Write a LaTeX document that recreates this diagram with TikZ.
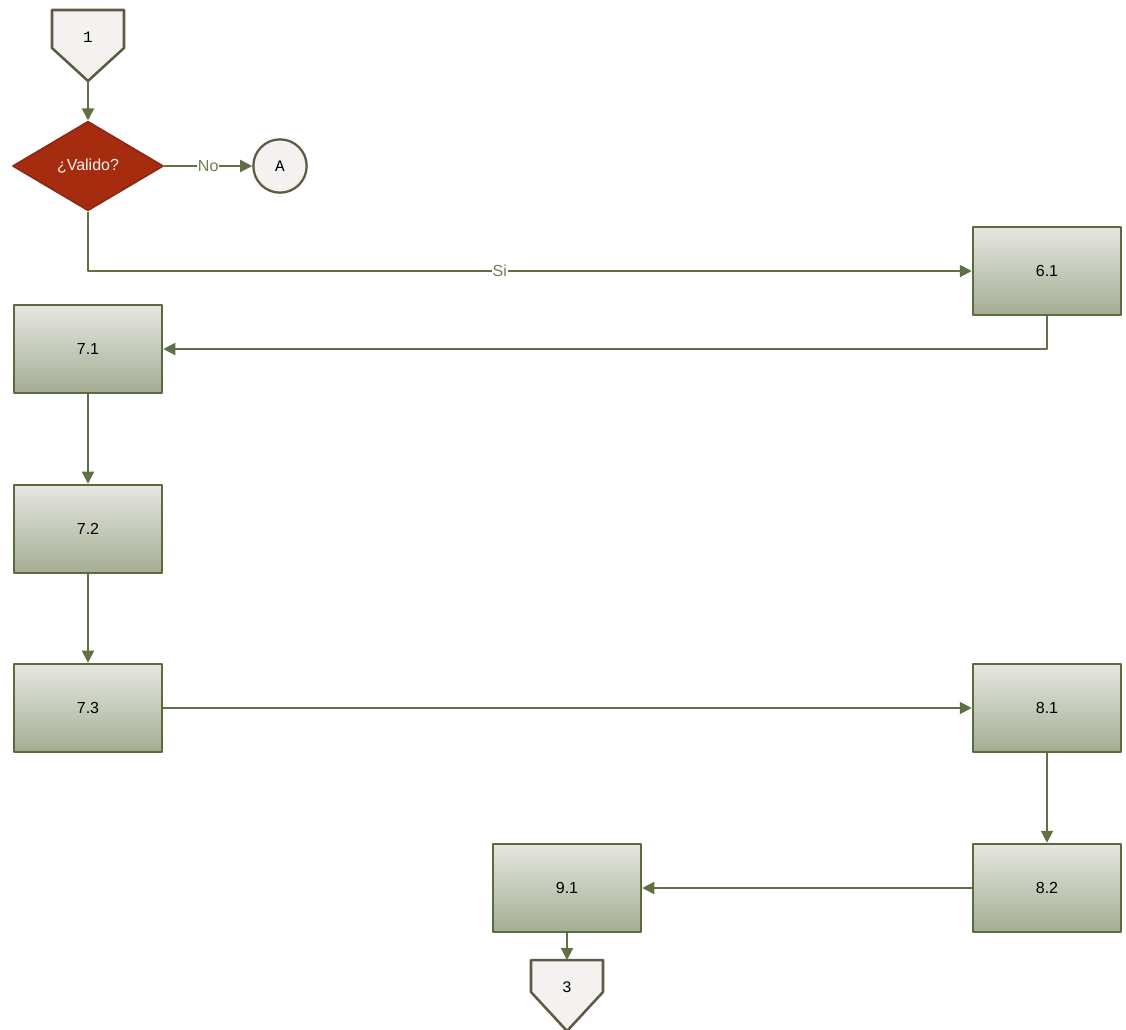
\documentclass[tikz,border=0pt]{standalone}
\usepackage{fontspec}
\setmainfont{Liberation Sans}
\newfontfamily\pagefont{Liberation Mono}
\usetikzlibrary{arrows.meta}
\usetikzlibrary{calc}
\usetikzlibrary{positioning}
\usetikzlibrary{shapes.geometric}
\definecolor{flow-line}{HTML}{5E7044}
\definecolor{flow-border}{HTML}{5A6B3E}
\definecolor{flow-top}{HTML}{E6E7E2}
\definecolor{flow-bottom}{HTML}{A3AD92}
\definecolor{flow-rust}{HTML}{A52C0F}
\definecolor{flow-rustdark}{HTML}{8A2A12}
\definecolor{flow-paper}{HTML}{F3F2F0}
\definecolor{flow-ink}{HTML}{5F5A43}
\definecolor{flow-label}{HTML}{6E7F52}

\begin{document}
\begin{tikzpicture}[x=0.75pt, y=-0.75pt, line join=round,
    every node/.style={font=\fontsize{12}{14}\selectfont},
    task/.style={draw=flow-border, line width=1.9pt, top color=flow-top, bottom color=flow-bottom,
        minimum width=111pt, minimum height=66pt, inner sep=0pt},
    choice/.style={diamond, draw=flow-rustdark, line width=1.3pt, fill=flow-rust, text=flow-paper,
        aspect=1.7, minimum width=113pt, minimum height=67pt, inner sep=0pt},
    connector/.style={circle, draw=flow-ink, line width=1.7pt, fill=flow-paper, minimum size=40pt,
        inner sep=0pt, font=\pagefont\fontsize{12}{14}\selectfont},
    pageshape/.style={draw=flow-ink, line width=1.9pt, fill=flow-paper},
    pagetext/.style={inner sep=0pt, font=\pagefont\fontsize{12}{14}\selectfont},
    flow/.style={draw=flow-line, line width=1.5pt, -{Triangle[length=9pt,width=9pt]}},
    yesno/.style={fill=white, text=flow-label, inner sep=0.5pt}]

    % frame
    \useasboundingbox (0,0) rectangle (1126,1029);

    % off-page connector in
    \draw[pageshape] (52,10) -- (124,10) -- (124,48) -- (88,81) -- (52,48) -- cycle;
    \node[pagetext] (page1) at (88,37) {1};
    \coordinate (page1tip) at (88,81);

    % decision
    \node[choice] (valid) at (88,166) {¿Valido?};
    \node[connector] (pageA) at (280,166) {A};

    % tasks
    \node[task] (t61) at (1047,271) {6.1};
    \node[task] (t71) at (88,349) {7.1};
    \node[task] (t72) at (88,529) {7.2};
    \node[task] (t73) at (88,708) {7.3};
    \node[task] (t81) at (1047,708) {8.1};
    \node[task] (t82) at (1047,888) {8.2};
    \node[task] (t91) at (567,888) {9.1};

    % off-page connector out
    \draw[pageshape] (531,960) -- (603,960) -- (603,992) -- (567,1031) -- (531,992) -- cycle;
    \node[pagetext] (page3) at (567,987) {3};
    \coordinate (page3top) at (567,960);

    % links
    \draw[flow] (page1tip) -- (valid);
    \draw[flow] (valid) -- node[yesno] {No} (pageA);
    \draw[flow] (valid.south) |- node[yesno, pos=0.733] {Si} (t61);
    \draw[flow] (t61.south) |- (t71);
    \draw[flow] (t71) -- (t72);
    \draw[flow] (t72) -- (t73);
    \draw[flow] (t73) -- (t81);
    \draw[flow] (t81) -- (t82);
    \draw[flow] (t82) -- (t91);
    \draw[flow] (t91) -- (page3top);

\end{tikzpicture}
\end{document}
